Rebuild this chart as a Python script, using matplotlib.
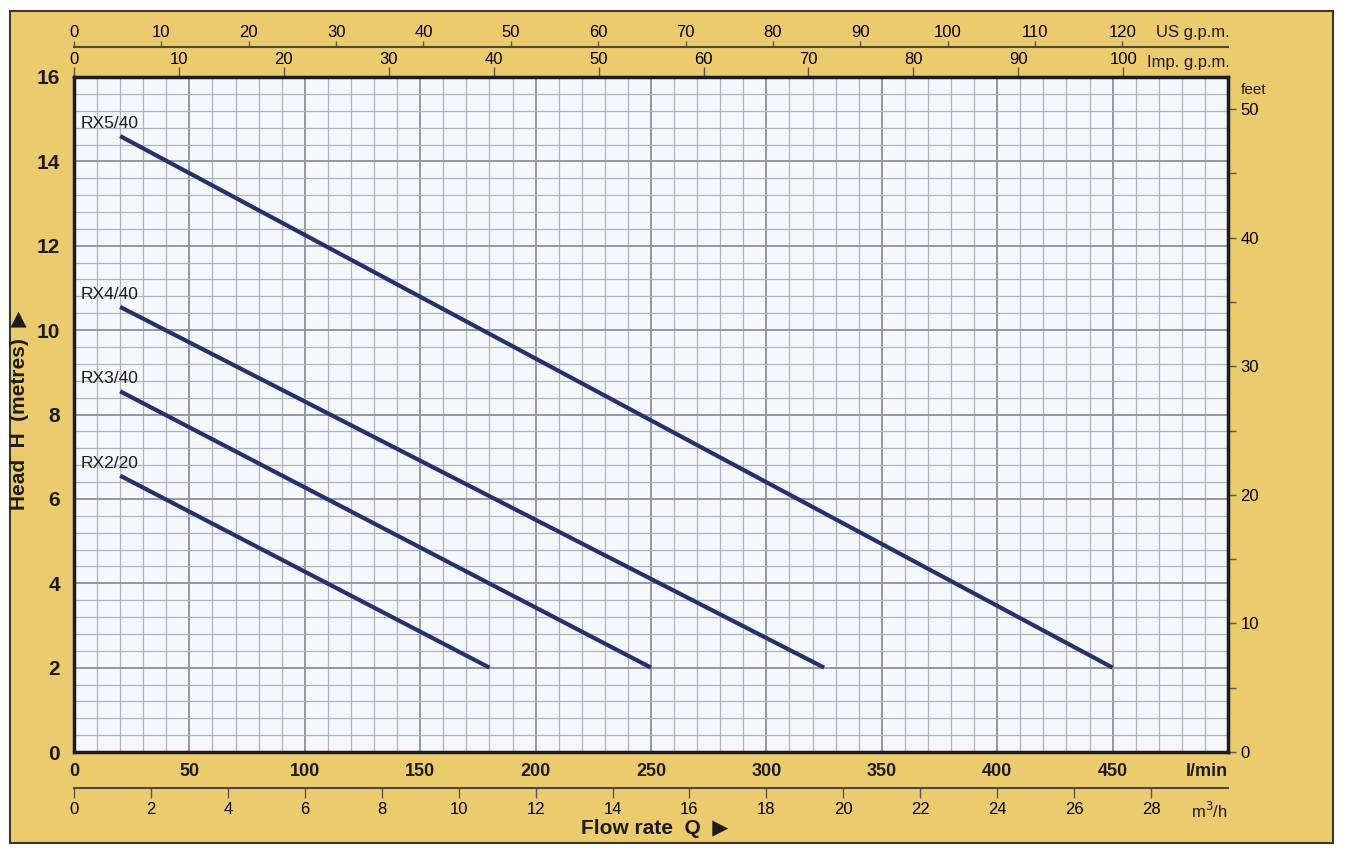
import matplotlib.pyplot as plt
import matplotlib.patches as mpatches
import numpy as np

plt.rcParams["font.family"] = ["Liberation Sans", "DejaVu Sans"]

# ----------------------------------------------------------------------
# Pump curves (head in metres vs flow in l/min)

models = ["RX5/40", "RX4/40", "RX3/40", "RX2/20"]
q_start = [20, 20, 20, 20]
q_end = [450, 325, 250, 180]
h_start = [14.6, 10.55, 8.55, 6.55]
h_end = [2.0, 2.0, 2.0, 2.0]

lpm_ticks = [0, 50, 100, 150, 200, 250, 300, 350, 400, 450]
head_ticks = [0, 2, 4, 6, 8, 10, 12, 14, 16]
us_gpm_ticks = list(range(0, 121, 10))
imp_gpm_ticks = list(range(0, 101, 10))
m3h_ticks = list(range(0, 29, 2))
feet_ticks = [0, 10, 20, 30, 40, 50]

YELLOW = "#eccb6f"
NAVY = "#25306d"
INK = "#1c1c1c"

# unit conversions
US_GAL = 3.78541
IMP_GAL = 4.54609

# ----------------------------------------------------------------------

W, H = 1345, 860
fig = plt.figure(figsize=(W / 100, H / 100), dpi=100)
fig.patch.set_facecolor("white")

# yellow card behind everything
card = mpatches.Rectangle((10 / W, 17 / H), 1323 / W, 832 / H,
                          transform=fig.transFigure, facecolor=YELLOW,
                          edgecolor="#3b3526", lw=1.5, zorder=-10)
fig.patches.append(card)

ax = fig.add_axes([74 / W, 108 / H, 1154 / W, 675 / H])
ax.set_facecolor("#f6f7fa")
ax.set_xlim(0, 500)
ax.set_ylim(0, 16)

# grid
ax.set_xticks(lpm_ticks)
ax.set_xticks(range(0, 501, 10), minor=True)
ax.set_yticks(head_ticks)
ax.set_yticks(np.arange(0, 16.01, 0.4), minor=True)
ax.grid(which="minor", color="#afb1bd", lw=0.9)
ax.grid(which="major", color="#9496a4", lw=1.4)
ax.set_axisbelow(True)

for s in ax.spines.values():
    s.set_linewidth(2.5)
    s.set_color(INK)

ax.tick_params(which="both", length=0)
ax.tick_params(axis="x", pad=8, labelsize=13)
ax.tick_params(axis="y", pad=10, labelsize=15)
for lab in ax.get_xticklabels() + ax.get_yticklabels():
    lab.set_fontweight("bold")
    lab.set_color(INK)

# curves
for name, q0, q1, h0, h1 in zip(models, q_start, q_end, h_start, h_end):
    ax.plot([q0, q1], [h0, h1], color=NAVY, lw=3, solid_capstyle="butt", zorder=3)
    ax.text(3, h0 + 0.3, name, fontsize=12.5, ha="left", va="center", color=INK, zorder=4)

# Imp. g.p.m. on the top spine
imp = ax.secondary_xaxis("top", functions=(lambda q: q / IMP_GAL, lambda g: g * IMP_GAL))
imp.set_xticks(imp_gpm_ticks)
imp.tick_params(length=7, width=1, pad=0, labelsize=12, color="#555")
imp.spines["top"].set_visible(False)

# US g.p.m. on a line above
us = ax.secondary_xaxis(1.0444, functions=(lambda q: q / US_GAL, lambda g: g * US_GAL))
us.set_xticks(us_gpm_ticks)
us.tick_params(length=4, width=1, pad=1, labelsize=12, color="#555")
for side in ("top", "bottom"):
    us.spines[side].set_linewidth(1.5)
    us.spines[side].set_color("#4a4a3a")

# m3/h on a line below
m3 = ax.secondary_xaxis(-0.0533, functions=(lambda q: q * 0.06, lambda v: v / 0.06))
m3.set_xticks(m3h_ticks)
m3.tick_params(length=7, width=1, pad=3, labelsize=12, color="#555")
for side in ("top", "bottom"):
    m3.spines[side].set_linewidth(1.5)
    m3.spines[side].set_color("#4a4a3a")

# feet on the right
ft = ax.secondary_yaxis("right", functions=(lambda m: m / 0.3048, lambda f: f * 0.3048))
ft.set_yticks(feet_ticks)
ft.set_yticks(range(0, 51, 5), minor=True)
ft.tick_params(which="both", length=6, width=1, pad=3, labelsize=12, color="#555")
ft.spines["right"].set_visible(False)

# unit labels and axis titles
fig.text(1230 / W, 1 - 33 / H, "US g.p.m.", fontsize=12, ha="right", va="center", color=INK)
fig.text(1230 / W, 1 - 62 / H, "Imp. g.p.m.", fontsize=12, ha="right", va="center", color=INK)
fig.text(1241 / W, 1 - 90 / H, "feet", fontsize=11, ha="left", va="center", color=INK)
fig.text(1228 / W, 1 - 772 / H, "l/min", fontsize=13, fontweight="bold", ha="right",
         va="center", color=INK)
fig.text(1228 / W, 1 - 811 / H, "m$^3$/h", fontsize=12, ha="right", va="center", color=INK)
fig.text(655 / W, 1 - 828 / H, "Flow rate  Q  \u25b6", fontsize=15, fontweight="bold",
         ha="center", va="center", color=INK)
fig.text(20 / W, 1 - 410 / H, "Head  H  (metres)  \u25b6", fontsize=15, fontweight="bold",
         rotation=90, ha="center", va="center", color=INK)

plt.savefig("out.png", dpi=100, facecolor=fig.get_facecolor())
